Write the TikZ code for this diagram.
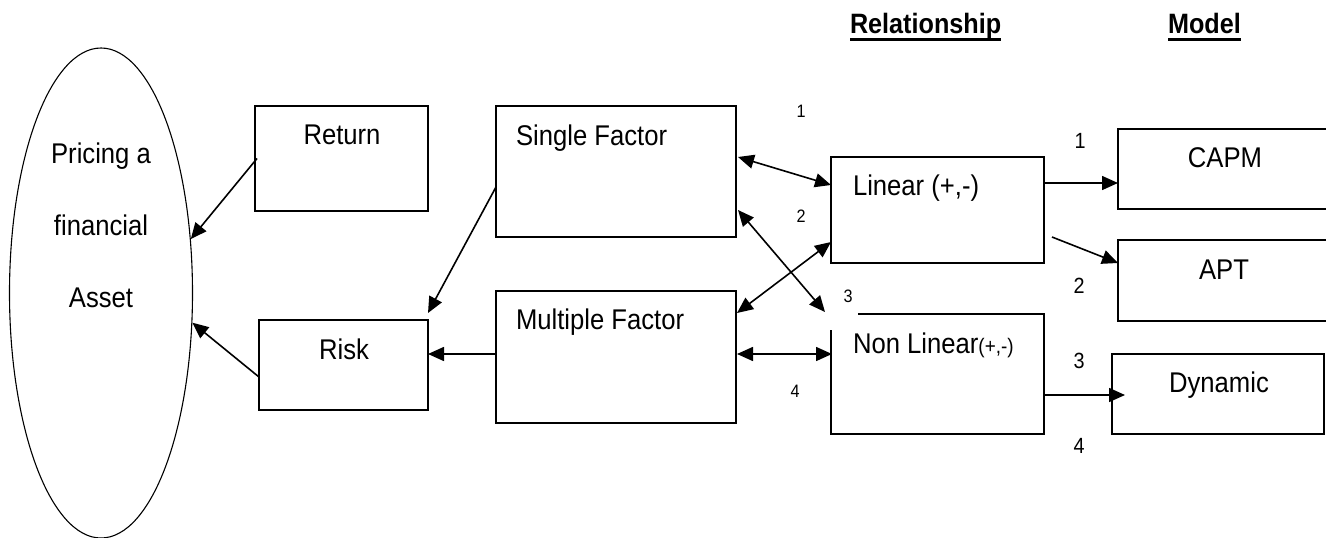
\documentclass[tikz,border=0pt]{standalone}
\usepackage{fontspec}
\setmainfont{Liberation Sans}[FakeStretch=0.9]
\usetikzlibrary{arrows.meta,shapes.geometric}
\begin{document}
\begin{tikzpicture}[x=1pt,y=-1pt,
  box/.style={draw,line width=1.5pt,rectangle,inner sep=0pt,outer sep=0pt},
  txt/.style={inner sep=0pt,outer sep=0pt,font=\fontsize{28.5}{34}\selectfont},
  num/.style={inner sep=0pt,outer sep=0pt,font=\fontsize{18}{20}\selectfont,anchor=base},
  bignum/.style={inner sep=0pt,outer sep=0pt,font=\fontsize{22}{24}\selectfont,anchor=base},
  hdr/.style={inner sep=0pt,outer sep=0pt,font=\fontsize{28}{32}\selectfont\bfseries,anchor=base west},
  tip/.tip={Triangle[length=16pt,width=14pt]},
  arr/.style={line width=1.6pt,-tip},
  darr/.style={line width=1.6pt,tip-tip}]
\useasboundingbox (0,0) rectangle (1326,538);
\fill[white] (0,0) rectangle (1326,538);
\clip (0,0) rectangle (1326,538);

% ellipse
\node[draw,ellipse,line width=1.1pt,minimum width=183pt,minimum height=490pt,inner sep=0pt] (pa) at (101,293) {};
\node[txt,anchor=base] (pa1) at (101,163) {Pricing a};
\node[txt,anchor=base] (pa2) at (101,235) {financial};
\node[txt,anchor=base] (pa3) at (101,307) {Asset};

% boxes
\node[box,minimum width=173pt,minimum height=105pt] (rt) at (341.5,158.5) {};
\node[box,minimum width=169pt,minimum height=90pt] (rk) at (343.5,365) {};
\node[box,minimum width=240pt,minimum height=131pt] (sf) at (616,171.5) {};
\node[box,minimum width=240pt,minimum height=132pt] (mf) at (616,357) {};
\node[box,minimum width=213pt,minimum height=106pt] (ln) at (937.5,210) {};
\node[inner sep=0pt,outer sep=0pt,minimum width=213pt,minimum height=120pt] (nl) at (937.5,374) {};
\draw[line width=1.5pt] ([xshift=27pt]nl.north west) -- (nl.north east) -- (nl.south east) -- (nl.south west) -- ([yshift=-16pt]nl.north west);
\node[box,minimum width=222pt,minimum height=80pt] (capm) at (1229,169) {};
\node[box,minimum width=222pt,minimum height=81pt] (apt) at (1229,280.5) {};
\node[box,minimum width=212pt,minimum height=80pt] (dyn) at (1218,394) {};

% box texts
\node[txt,anchor=base] (rtt) at (342,144) {Return};
\node[txt,anchor=base] (rkt) at (344,359) {Risk};
\node[txt,anchor=base west] (sft) at (516,145) {Single Factor};
\node[txt,anchor=base west] (mft) at (516,329) {Multiple Factor};
\node[txt,anchor=base west] (lnt) at (853,195) {Linear (+,-)};
\node[txt,anchor=base west] (nlt) at (853,353) {Non Linear{\fontsize{21}{24}\selectfont(+,-)}};
\node[txt,anchor=base] (capmt) at (1225,167) {CAPM};
\node[txt,anchor=base] (aptt) at (1224,279) {APT};
\node[txt,anchor=base] (dynt) at (1219,392) {Dynamic};

% headers
\node[hdr] (h1) at (850,34) {Relationship};
\node[hdr] (h2) at (1168,34) {Model};
\draw[line width=3pt] ([yshift=-5pt]h1.base west) -- ([yshift=-5pt]h1.base east);
\draw[line width=3pt] ([yshift=-5pt]h2.base west) -- ([yshift=-5pt]h2.base east);

% numbers
\node[num] (n1) at (801,117) {1};
\node[num] (n2) at (801,222) {2};
\node[num] (n3) at (848,302) {3};
\node[num] (n4) at (795,397) {4};
\node[bignum] (m1) at (1080,148) {1};
\node[bignum] (m2) at (1079,293) {2};
\node[bignum] (m3) at (1079,368) {3};
\node[bignum] (m4) at (1079,453) {4};

% connectors
\draw[arr] ([xshift=2pt]rt.west) -- (pa.31.6);
\draw[arr] ([yshift=-12pt]rk.west) -- (pa.-18.2);
\draw[arr] ([yshift=-81pt]sf.north west) -- ([yshift=7pt]rk.north east);
\draw[arr] ([yshift=3pt]mf.west) -- ([yshift=3pt]mf.west -| rk.east);
\draw[darr] ([xshift=2pt,yshift=-51pt]sf.north east) -- ([yshift=-28pt]ln.north west);
\draw[darr] ([xshift=2pt,yshift=-104pt]sf.north east) -- ([xshift=-6pt,yshift=2pt]nl.north west);
\draw[darr] ([xshift=1pt,yshift=-22pt]mf.north east) -- ([yshift=-85pt]ln.north west);
\draw[darr] ([xshift=1pt,yshift=-63pt]mf.north east) -- ([xshift=1pt,yshift=-63pt]mf.north east -| nl.west);
\draw[arr] ([yshift=-26pt]ln.north east) -- ([yshift=-26pt]ln.north east -| capm.west);
\draw[arr] ([xshift=8pt,yshift=-80pt]ln.north east) -- ([yshift=-23pt]apt.north west);
\draw[arr,shorten >=-13pt] ([yshift=-81pt]nl.north east) -- ([yshift=-81pt]nl.north east -| dyn.west);
\end{tikzpicture}
\end{document}
